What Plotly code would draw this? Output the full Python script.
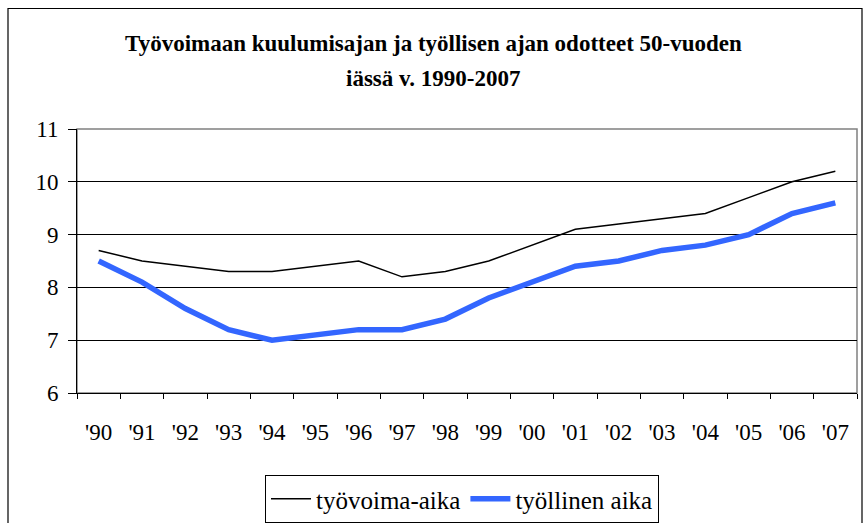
import plotly.graph_objects as go

years = ["'90", "'91", "'92", "'93", "'94", "'95", "'96", "'97", "'98", "'99",
         "'00", "'01", "'02", "'03", "'04", "'05", "'06", "'07"]
tyovoima_aika = [8.7, 8.5, 8.4, 8.3, 8.3, 8.4, 8.5, 8.2, 8.3, 8.5,
                 8.8, 9.1, 9.2, 9.3, 9.4, 9.7, 10.0, 10.2]
tyollinen_aika = [8.5, 8.1, 7.6, 7.2, 7.0, 7.1, 7.2, 7.2, 7.4, 7.8,
                  8.1, 8.4, 8.5, 8.7, 8.8, 9.0, 9.4, 9.6]

W, H = 865, 523
L, R, T, B = 77, 8, 129, 130
pw, ph = W - L - R, H - T - B
def px(x): return (x - L) / pw
def py(y): return (H - B - y) / ph

FONT = "Liberation Serif, Times New Roman, serif"

fig = go.Figure()
fig.add_trace(go.Scatter(x=years, y=tyovoima_aika, mode="lines", name="työvoima-aika",
                         line=dict(color="black", width=1.5)))
fig.add_trace(go.Scatter(x=years, y=tyollinen_aika, mode="lines", name="työllinen aika",
                         line=dict(color="#3366FF", width=5.5)))

fig.update_layout(
    width=W, height=H,
    margin=dict(l=L, r=R, t=T, b=B, autoexpand=False),
    paper_bgcolor="white", plot_bgcolor="white",
    font=dict(family=FONT, size=23, color="black"),
    showlegend=True,
    legend=dict(orientation="h", x=px(462), xanchor="center", y=py(475), yanchor="top",
                bordercolor="black", borderwidth=1, bgcolor="white",
                font=dict(family=FONT, size=25), itemwidth=40,
                tracegroupgap=0),
    xaxis=dict(type="category", range=[-0.5, len(years) - 0.5], showgrid=False, showline=True,
               linecolor="black", linewidth=1, automargin=False,
               ticks="outside", ticklen=5, tickcolor="black", tickson="boundaries",
               ticklabelstandoff=18, tickfont=dict(family=FONT, size=23), fixedrange=True),
    yaxis=dict(range=[6, 11], dtick=1, showgrid=True, gridcolor="black", gridwidth=1,
               showline=True, linecolor="black", linewidth=1, ticks="outside", ticklen=8,
               automargin=False,
               tickcolor="black", ticklabelstandoff=5, tickfont=dict(family=FONT, size=23),
               zeroline=False, fixedrange=True),
    annotations=[
        dict(text="<b>Työvoimaan kuulumisajan ja työllisen ajan odotteet 50-vuoden</b>",
             xref="paper", yref="paper", x=px(433), y=py(44), xanchor="center", yanchor="middle",
             showarrow=False, font=dict(family=FONT, size=23)),
        dict(text="<b>iässä v. 1990-2007</b>",
             xref="paper", yref="paper", x=px(433), y=py(79), xanchor="center", yanchor="middle",
             showarrow=False, font=dict(family=FONT, size=23)),
    ],
    shapes=[
        dict(type="rect", xref="paper", yref="paper", x0=0, x1=1, y0=0, y1=1,
             line=dict(color="#808080", width=1.5), layer="below"),
        dict(type="rect", xref="paper", yref="paper", x0=px(8), x1=px(862), y0=py(560), y1=py(8.5),
             line=dict(color="black", width=1.2), layer="below"),
    ],
)

fig.write_html("out.html", config={"displayModeBar": False},
               post_script="document.body.style.margin='0';document.body.style.padding='0';")
